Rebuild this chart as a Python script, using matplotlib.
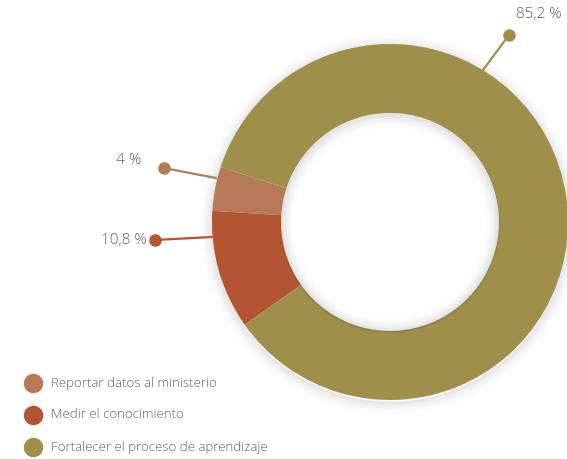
import numpy as np
import matplotlib.pyplot as plt
from matplotlib.patches import Circle

# data
labels = ['Reportar datos al ministerio', 'Medir el conocimiento',
          'Fortalecer el proceso de aprendizaje']
values = [4, 10.8, 85.2]
value_text = ['4 %', '10,8 %', '85,2 %']
colors = ['#B77A56', '#B35433', '#A08E4B']

W, H = 567, 459
cx, cy = 390, H - 222
R, r_in = 178, 109
text_col = '#5c6167'

plt.rcParams['font.family'] = ['Open Sans', 'DejaVu Sans']

fig = plt.figure(figsize=(W / 100, H / 100), dpi=100)
ax = fig.add_axes([0, 0, 1, 1])

# soft shadow around the ring
for k in range(16):
    a = 0.05 * (1 - k / 16) ** 2
    ax.add_patch(Circle((cx, cy - 2), R + k, fill=False, lw=1.6,
                        ec='black', alpha=a, zorder=1))
    ax.add_patch(Circle((cx, cy - 1), r_in - k, fill=False, lw=1.6,
                        ec='black', alpha=a * 1.2, zorder=3))

wedges, _ = ax.pie(values, colors=colors, startangle=162, counterclock=True,
                   center=(cx, cy), radius=R, frame=True,
                   wedgeprops=dict(width=R - r_in, linewidth=0, zorder=2))
ax.set_xlim(0, W)
ax.set_ylim(0, H)
ax.axis('off')

# leader lines with dots: (edge point, dot point, text position)
leaders = [
    ((216, 178), (164, 168), (141, 161), 'right'),
    ((212, 237), (155, 240), (147, 240), 'right'),
    ((483, 70), (509, 35), (539, 15), 'center'),
]
for (p_edge, p_dot, p_txt, ha), c, t in zip(leaders, colors, value_text):
    ax.plot([p_edge[0], p_dot[0]], [H - p_edge[1], H - p_dot[1]],
            color=c, lw=1.6, zorder=4, solid_capstyle='round')
    ax.plot(p_dot[0], H - p_dot[1], 'o', color=c, ms=8, zorder=5)
    ax.text(p_txt[0], H - p_txt[1], t, ha=ha, va='center', fontsize=11,
            color=text_col, fontweight=300)

# legend
for i, (lab, c) in enumerate(zip(labels, colors)):
    y = H - (383 + 32 * i)
    ax.plot(33, y, 'o', color=c, ms=13)
    ax.text(51, y, lab, ha='left', va='center', fontsize=9.5,
            color=text_col, fontweight=300)

fig.savefig('out.png', dpi=100)
